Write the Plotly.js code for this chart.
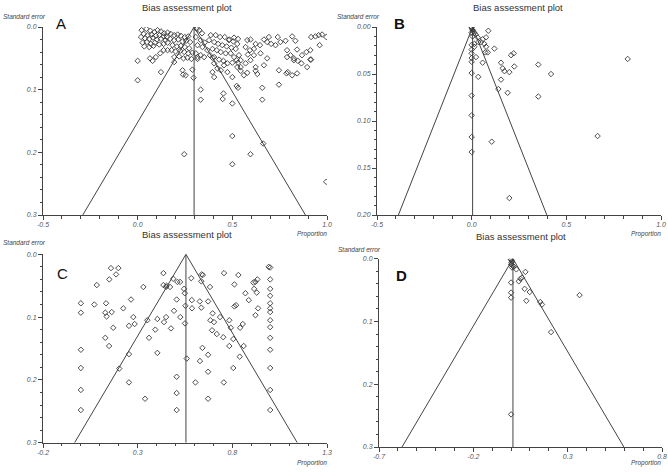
<!DOCTYPE html>
<html>
<head>
<meta charset="utf-8">
<script src="https://cdn.plot.ly/plotly-3.0.1.min.js"></script>
<style>html,body{margin:0;padding:0;background:#fff;}#chart{width:668px;height:472px;}</style>
</head>
<body>
<div id="chart"></div>
<script>
// ---------- Panel A ----------
const aProp = [0.021,0.046,0.067,0.088,0.105,0.123,0.140,0.158,0.032,0.053,0.074,0.096,0.116,0.137,0.154,0.018,0.039,0.061,0.081,0.102,0.123,0.147,0.026,0.049,0.070,0.091,0.114,0.137,0.158,0.035,0.061,0.084,
0.175,0.193,0.211,0.228,0.249,0.267,0.172,0.193,0.214,0.237,0.256,0.277,0.184,0.207,0.228,0.249,0.272,0.179,0.200,0.225,0.246,0.267,0.289,0.193,0.219,0.242,0.263,0.284,0.316,0.158,0.137,0.119,0.096,
0.312,0.326,0.340,0.307,0.333,0.354,0.316,0.342,0.368,0.307,0.333,0.351,0.316,
0.386,0.412,0.435,0.460,0.484,0.505,0.526,0.377,0.404,0.425,0.447,0.470,0.495,0.518,0.395,0.418,0.439,0.465,0.491,0.509,0.535,0.382,0.404,0.430,0.453,0.474,0.500,0.523,0.544,0.482,0.530,0.509,
0.570,0.593,0.614,0.579,0.596,0.623,0.646,0.667,0.684,0.705,0.728,0.693,0.740,0.754,0.781,0.816,0.833,0.789,0.807,0.842,0.868,0.891,0.916,0.939,0.956,0.974,0.996,0.961,0.912,0.582,0.614,0.649,0.684,0.544,0.570,0.596,0.789,0.825,0.846,0.865,0.912,0.825,
0.000,0.065,0.079,0.123,0.193,0.237,0.254,0.289,0.295,0.395,0.404,0.421,0.439,0.456,0.395,0.404,0.474,0.500,0.530,0.526,0.544,0.561,0.579,0.623,0.623,0.632,0.667,0.746,0.786,0.793,0.816,0.842,0.895,0.916,0.000,0.240,
0.333,0.333,0.453,0.449,0.500,0.523,0.530,0.658,0.658,0.746,
0.246,0.500,0.500,0.596,0.663,0.996];
const aSE = [0.005,0.003,0.006,0.008,0.005,0.007,0.010,0.009,0.011,0.013,0.012,0.014,0.013,0.015,0.016,0.016,0.018,0.019,0.017,0.020,0.019,0.021,0.025,0.024,0.027,0.025,0.028,0.027,0.025,0.031,0.032,0.030,
0.011,0.013,0.012,0.014,0.016,0.015,0.019,0.021,0.020,0.023,0.022,0.024,0.029,0.031,0.030,0.032,0.034,0.037,0.039,0.038,0.040,0.042,0.041,0.048,0.047,0.050,0.049,0.051,0.048,0.037,0.037,0.042,0.048,
0.003,0.005,0.010,0.016,0.021,0.025,0.029,0.032,0.037,0.042,0.045,0.048,0.051,
0.013,0.013,0.016,0.016,0.020,0.023,0.027,0.021,0.024,0.027,0.029,0.031,0.033,0.035,0.035,0.037,0.040,0.042,0.042,0.048,0.045,0.045,0.048,0.052,0.054,0.058,0.057,0.053,0.053,0.021,0.019,0.017,
0.032,0.037,0.035,0.021,0.020,0.027,0.029,0.020,0.024,0.027,0.029,0.016,0.016,0.024,0.022,0.015,0.022,0.037,0.045,0.036,0.045,0.040,0.016,0.015,0.013,0.012,0.016,0.029,0.037,0.044,0.045,0.042,0.050,0.064,0.058,0.053,0.048,0.053,0.054,0.058,0.052,0.050,
0.054,0.050,0.054,0.072,0.056,0.069,0.077,0.068,0.081,0.049,0.058,0.066,0.069,0.061,0.072,0.080,0.072,0.080,0.057,0.064,0.070,0.077,0.073,0.064,0.070,0.075,0.061,0.069,0.074,0.072,0.077,0.074,0.064,0.052,0.085,0.076,
0.100,0.116,0.106,0.115,0.122,0.094,0.097,0.097,0.116,0.092,
0.203,0.174,0.219,0.203,0.186,0.247];
const aPooled = 0.298, aSEMax = 0.3;

// ---------- Panel B ----------
const bProp = [0.000,0.000,0.000,0.004,0.007,0.000,0.014,0.021,0.032,0.005,0.088,0.058,0.076,0.049,0.035,0.067,0.014,0.000,0.076,0.014,0.000,0.085,0.072,0.120,0.000,0.023,0.000,0.000,0.058,0.000,0.035,0.208,0.222,0.155,0.164,0.173,0.199,0.225,0.352,0.419,0.155,0.141,0.190,0.000,0.352,0.824,0.000,0.000,0.106,0.665,0.000,0.199];
const bSE = [0.000,0.000,0.001,0.003,0.004,0.006,0.006,0.008,0.011,0.010,0.004,0.013,0.011,0.016,0.016,0.018,0.018,0.019,0.021,0.021,0.024,0.027,0.027,0.023,0.028,0.032,0.033,0.037,0.038,0.049,0.053,0.030,0.028,0.038,0.044,0.047,0.048,0.042,0.040,0.050,0.056,0.066,0.070,0.073,0.074,0.034,0.094,0.117,0.122,0.116,0.133,0.182];
const bPooled = 0.005, bSEMax = 0.2;

// ---------- Panel C ----------
const cProp = [0.159,0.198,0.186,0.150,0.084,0.436,0.488,0.510,0.524,0.436,0.453,0.471,0.450,0.330,0.583,0.638,0.644,0.756,0.832,0.636,0.682,0.811,0.911,0.922,0.932,0.915,0.929,0.869,0.887,0.820,0.811,0.936,0.922,0.992,1.000,
1.000,1.000,1.000,1.000,1.000,1.000,1.000,1.000,1.000,1.000,1.000,1.000,1.000,
0.000,0.000,0.000,0.000,0.000,0.000,
0.071,0.133,0.224,0.265,0.129,0.136,0.163,0.171,0.129,0.149,0.254,0.277,0.284,0.351,0.393,0.360,0.404,0.439,0.450,0.476,0.492,0.525,0.550,0.506,0.545,0.549,0.552,0.586,0.587,0.628,0.636,0.672,0.696,0.684,0.703,0.735,0.784,0.693,0.718,0.752,0.792,0.805,0.841,0.855,0.784,0.860,0.642,0.672,0.839,0.559,0.629,0.404,0.254,0.203,0.805,0.672,0.506,0.254,0.605,0.755,0.506,0.339,0.672,0.506];
const cSE = [0.022,0.022,0.032,0.040,0.049,0.030,0.039,0.044,0.044,0.049,0.050,0.052,0.052,0.052,0.038,0.032,0.033,0.030,0.033,0.043,0.052,0.048,0.045,0.044,0.040,0.055,0.061,0.062,0.073,0.081,0.083,0.086,0.097,0.020,0.021,
0.040,0.055,0.066,0.078,0.086,0.092,0.105,0.116,0.133,0.152,0.181,0.216,0.248,
0.078,0.093,0.152,0.181,0.216,0.248,
0.080,0.078,0.086,0.072,0.093,0.099,0.092,0.117,0.133,0.146,0.114,0.100,0.111,0.105,0.120,0.133,0.103,0.108,0.100,0.118,0.090,0.100,0.110,0.072,0.055,0.062,0.082,0.073,0.086,0.075,0.085,0.075,0.094,0.105,0.108,0.100,0.105,0.121,0.127,0.132,0.117,0.135,0.117,0.111,0.146,0.146,0.149,0.160,0.163,0.166,0.170,0.157,0.159,0.182,0.181,0.187,0.195,0.204,0.204,0.204,0.221,0.230,0.230,0.248];
const cPooled = 0.555, cSEMax = 0.3;

// ---------- Panel D ----------
const dProp = [0.000,0.000,0.005,0.002,0.000,0.009,0.014,0.005,0.028,0.000,0.000,0.000,0.041,0.050,0.058,0.076,0.072,0.081,0.099,0.155,0.164,0.212,0.363,0.000];
const dSE = [0.001,0.002,0.004,0.006,0.009,0.011,0.013,0.014,0.017,0.038,0.054,0.062,0.036,0.032,0.030,0.021,0.048,0.067,0.053,0.069,0.073,0.117,0.058,0.248];
const dPooled = 0.01, dSEMax = 0.3;

// ---------- Tick labels ----------
const aXTicks = [-0.5, 0.0, 0.5, 1.0], aXText = ['-0.5','0.0','0.5','1.0'];
const aYTicks = [0.0, 0.1, 0.2, 0.3], aYText = ['0.0','0.1','0.2','0.3'];
const bXTicks = [-0.5, 0.0, 0.5, 1.0], bXText = ['-0.5','0.0','0.5','1.0'];
const bYTicks = [0.00, 0.05, 0.10, 0.15, 0.20], bYText = ['0.00','0.05','0.10','0.15','0.20'];
const cXTicks = [-0.2, 0.3, 0.8, 1.3], cXText = ['-0.2','0.3','0.8','1.3'];
const cYTicks = [0.0, 0.1, 0.2, 0.3], cYText = ['0.0','0.1','0.2','0.3'];
const dXTicks = [-0.7, -0.2, 0.3, 0.8], dXText = ['-0.7','-0.2','0.3','0.8'];
const dYTicks = [0.0, 0.1, 0.2, 0.3], dYText = ['0.0','0.1','0.2','0.3'];

const panelTitle = 'Bias assessment plot';
const yLabel = 'Standard error';
const xLabel = 'Proportion';
const panelLetters = ['A','B','C','D'];

// ---------- Build ----------
const W = 668, H = 472;
const ink = '#3a3a3a';
function pts(x, y, ax) {
  return {x: x, y: y, xaxis: 'x' + ax, yaxis: 'y' + ax, type: 'scatter', mode: 'markers',
    marker: {symbol: 'diamond-open', size: 4.2, color: ink, line: {width: 0.9, color: ink}},
    hoverinfo: 'skip', showlegend: false};
}
function funnel(p, m, ax) {
  const half = 1.96 * m;
  return {x: [p - half, p, p + half, null, p, p], y: [m, 0, m, null, 0, m],
    xaxis: 'x' + ax, yaxis: 'y' + ax, type: 'scatter', mode: 'lines',
    line: {color: '#444', width: 1}, hoverinfo: 'skip', showlegend: false};
}
const traces = [
  funnel(aPooled, aSEMax, ''), pts(aProp, aSE, ''),
  funnel(bPooled, bSEMax, '2'), pts(bProp, bSE, '2'),
  funnel(cPooled, cSEMax, '3'), pts(cProp, cSE, '3'),
  funnel(dPooled, dSEMax, '4'), pts(dProp, dSE, '4')
];

const tickFont = {family: 'Liberation Sans, Arial, sans-serif', size: 7, color: '#555', style: 'italic'};
function xax(dom, anchor, range, tv, tt) {
  return {domain: dom, anchor: anchor, range: range, tickvals: tv, ticktext: tt,
    showgrid: false, zeroline: false, showline: true, linecolor: '#444', linewidth: 1,
    ticks: 'outside', ticklen: 4, tickcolor: '#444', tickwidth: 1, tickfont: tickFont,
    ticklabelstandoff: -1,
    minor: {ticks: 'outside', ticklen: 2.5, dtick: 0.1, tick0: 0, tickcolor: '#444', showgrid: false},
    fixedrange: true};
}
function yax(dom, anchor, range, tv, tt, mdt) {
  return {domain: dom, anchor: anchor, range: range, tickvals: tv, ticktext: tt,
    showgrid: false, zeroline: false, showline: true, linecolor: '#444', linewidth: 1,
    ticks: 'outside', ticklen: 4, tickcolor: '#444', tickwidth: 1, tickfont: tickFont,
    minor: {ticks: 'outside', ticklen: 2.5, dtick: mdt, tick0: 0, tickcolor: '#444', showgrid: false},
    fixedrange: true};
}
const px = v => v / W, py = v => 1 - v / H;

function ann(text, x, y, xa, size, extra) {
  return {text: text, x: px(x), y: py(y), xref: 'paper', yref: 'paper',
    xanchor: xa, yanchor: 'middle', showarrow: false,
    font: Object.assign({family: 'Liberation Sans, Arial, sans-serif', size: size, color: '#333'}, extra || {})};
}
const italic = {style: 'italic', color: '#444'};
const annotations = [
  ann(panelTitle, 187, 8, 'center', 9.5), ann(panelTitle, 518, 8, 'center', 9.5),
  ann(panelTitle, 187, 234, 'center', 9.5), ann(panelTitle, 521, 236, 'center', 9.5),
  ann(yLabel, 1, 16, 'left', 6.5, italic), ann(yLabel, 335, 16, 'left', 6.5, italic),
  ann(yLabel, 1, 243, 'left', 6.5, italic), ann(yLabel, 336, 249, 'left', 6.5, italic),
  ann(xLabel, 329, 234, 'right', 6.5, italic), ann(xLabel, 663, 234, 'right', 6.5, italic),
  ann(xLabel, 329, 463, 'right', 6.5, italic), ann(xLabel, 663, 463, 'right', 6.5, italic),
  ann(panelLetters[0], 61, 24, 'center', 15, {color: '#111'}),
  ann(panelLetters[1], 400, 24, 'center', 15, {color: '#111', weight: 'bold'}),
  ann(panelLetters[2], 62, 273, 'center', 15, {color: '#111'}),
  ann(panelLetters[3], 401, 275, 'center', 15, {color: '#111', weight: 'bold'})
];

const layout = {
  width: W, height: H, margin: {l: 0, r: 0, t: 0, b: 0},
  paper_bgcolor: '#fff', plot_bgcolor: '#fff', showlegend: false,
  xaxis:  xax([43/W, 327/W], 'y',  [-0.5, 1.0], aXTicks, aXText),
  yaxis:  yax([(H-215)/H, (H-27)/H], 'x', [0.3, 0.0], aYTicks, aYText, 0.02),
  xaxis2: xax([377/W, 661/W], 'y2', [-0.5, 1.0], bXTicks, bXText),
  yaxis2: yax([(H-215)/H, (H-27)/H], 'x2', [0.2, 0.0], bYTicks, bYText, 0.01),
  xaxis3: xax([43/W, 327/W], 'y3', [-0.2, 1.3], cXTicks, cXText),
  yaxis3: yax([(H-442.7)/H, (H-254.3)/H], 'x3', [0.3, 0.0], cYTicks, cYText, 0.02),
  xaxis4: xax([379/W, 662/W], 'y4', [-0.7, 0.8], dXTicks, dXText),
  yaxis4: yax([(H-447)/H, (H-258.7)/H], 'x4', [0.3, 0.0], dYTicks, dYText, 0.02),
  annotations: annotations
};
Plotly.newPlot('chart', traces, layout, {staticPlot: true, displayModeBar: false});
</script>
</body>
</html>
